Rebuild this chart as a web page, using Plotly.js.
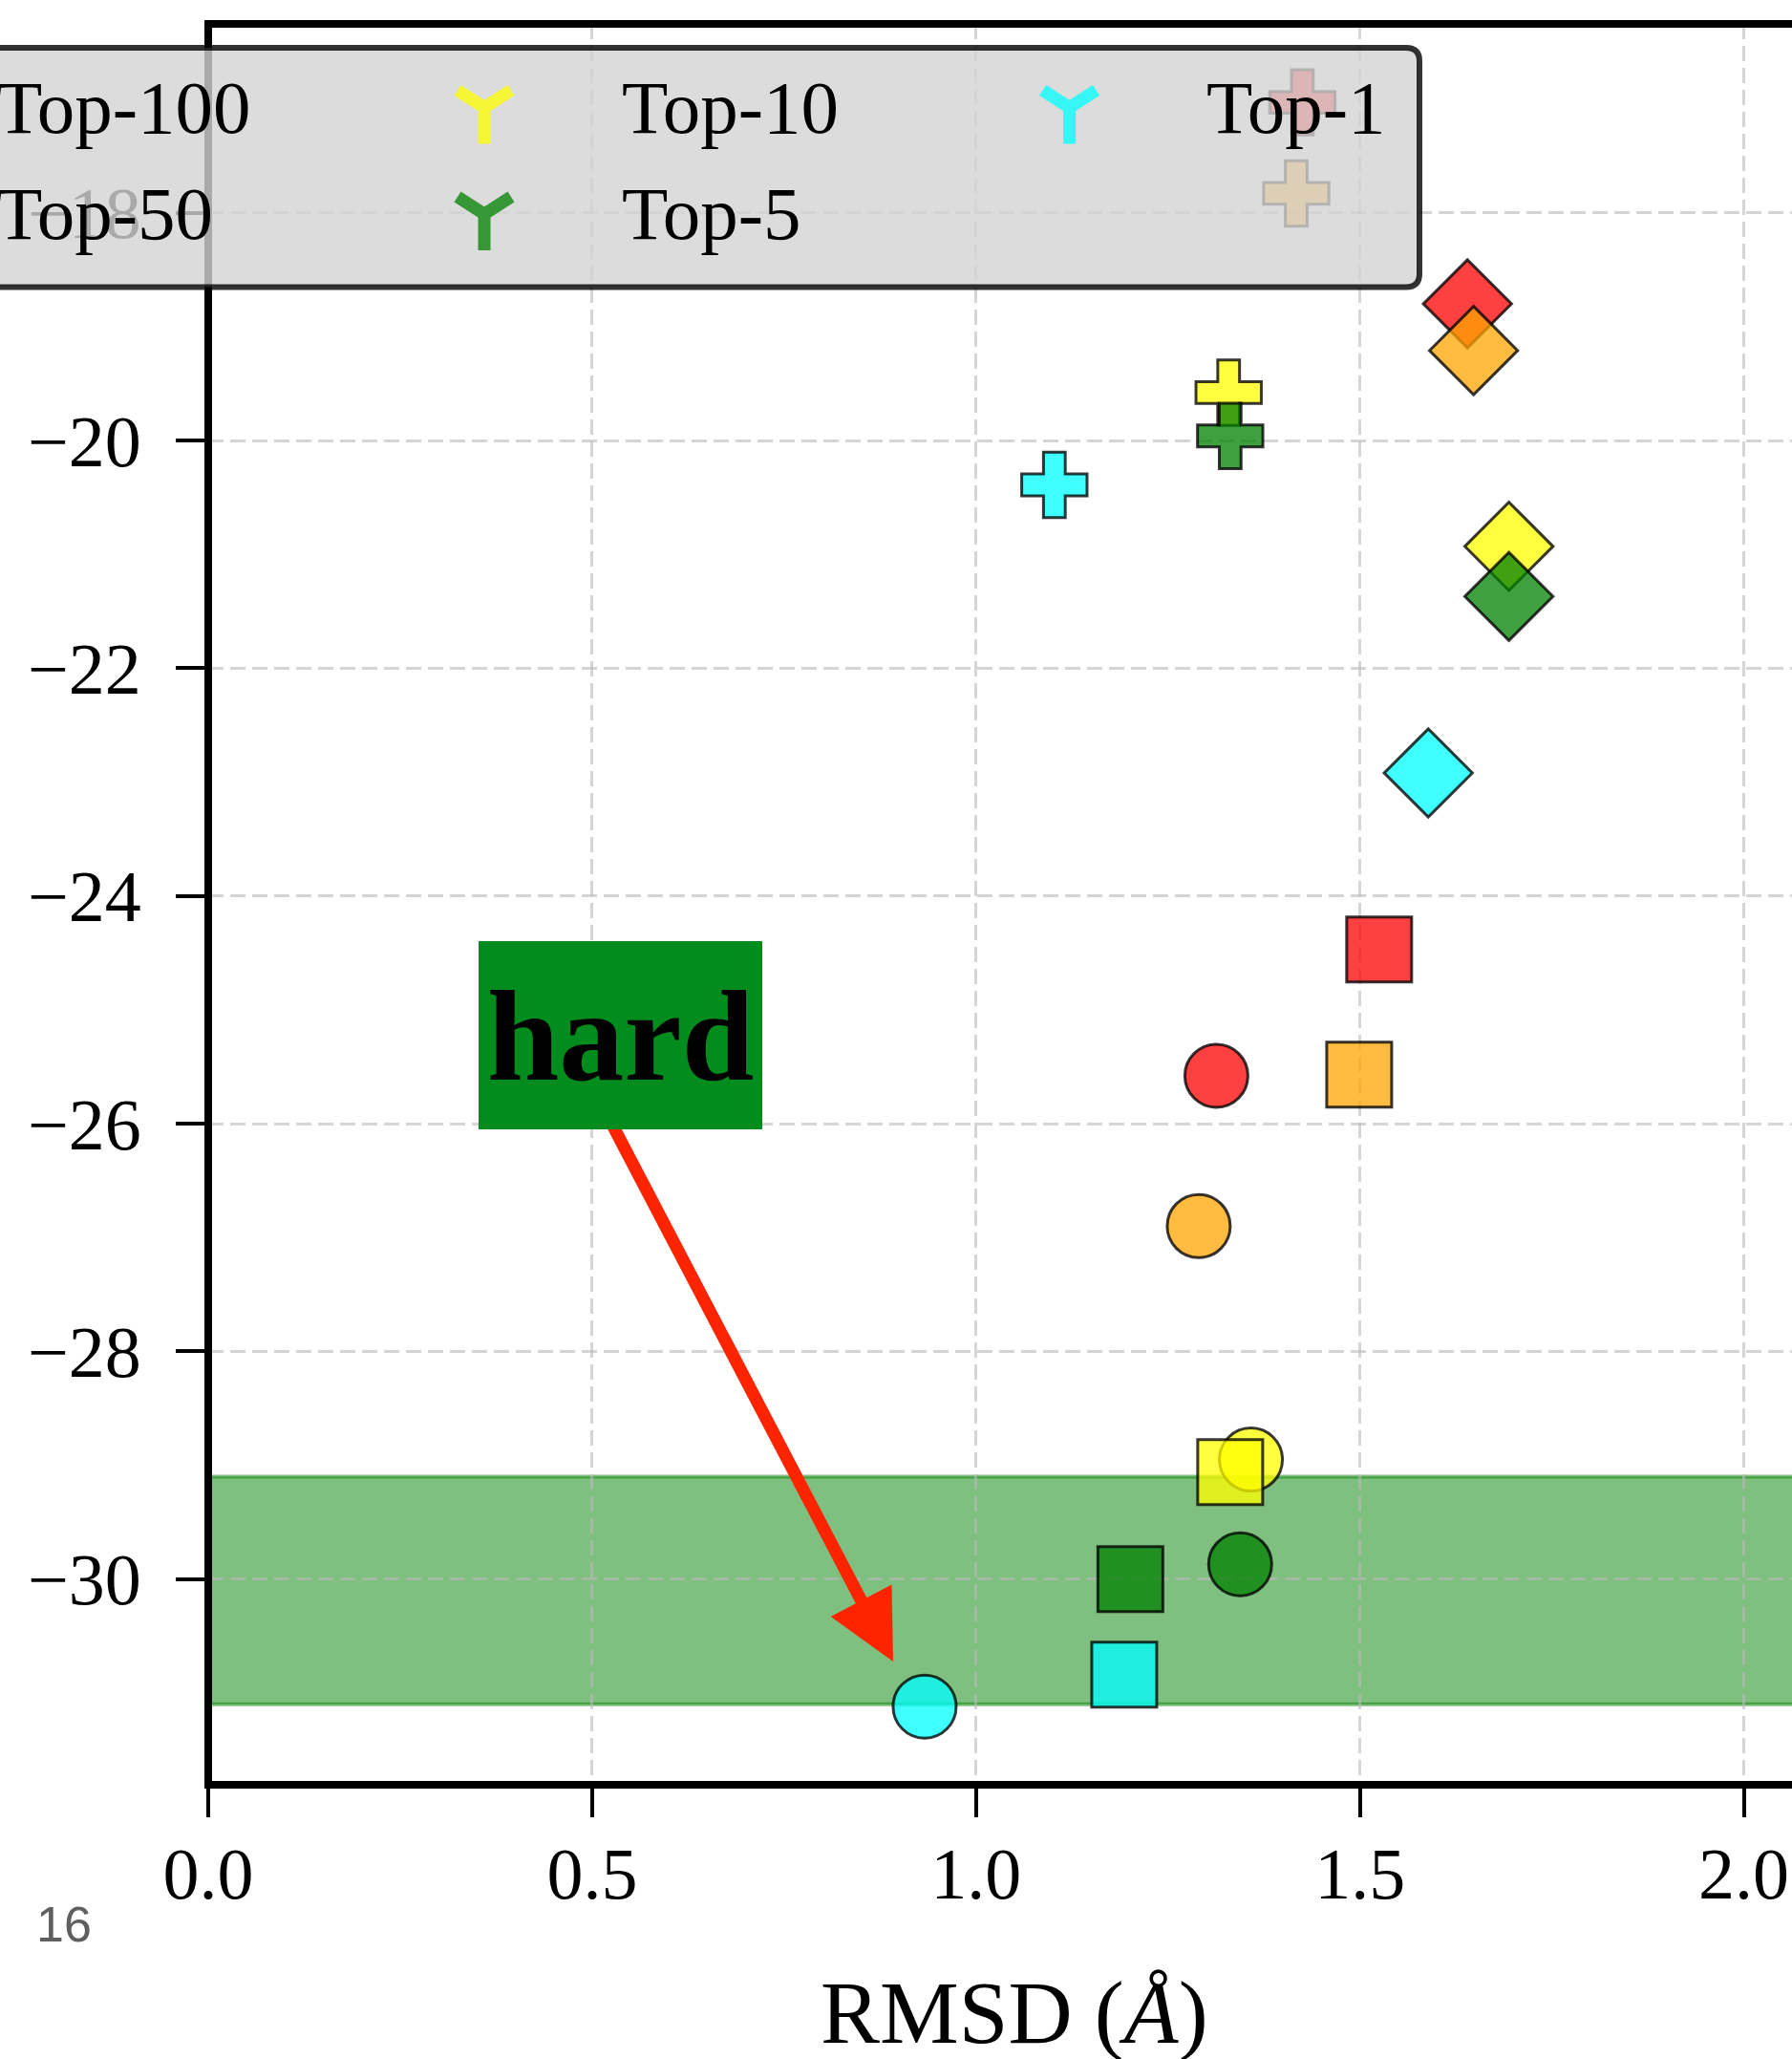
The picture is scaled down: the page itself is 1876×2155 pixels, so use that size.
<!DOCTYPE html>
<html>
<head>
<meta charset="utf-8">
<script src="https://cdn.plot.ly/plotly-3.0.1.min.js"></script>
<style>
html,body{margin:0;padding:0;background:#ffffff;}
#chart{width:1876px;height:2155px;}
</style>
</head>
<body>
<div id="chart"></div>
<script>
// ---------------- data ----------------
const seriesNames = ['Top-100', 'Top-50', 'Top-10', 'Top-5', 'Top-1'];
const markerKinds = ['circle', 'square', 'diamond', 'cross'];
// RMSD (x) and score (y) for each series, in markerKinds order
const rmsdTop100  = [1.313, 1.525, 1.640, 1.425];
const scoreTop100 = [-25.58, -24.47, -18.80, -17.03];
const rmsdTop50   = [1.290, 1.499, 1.648, 1.417];
const scoreTop50  = [-26.90, -25.57, -19.21, -17.83];
const rmsdTop10   = [1.358, 1.331, 1.694, 1.329];
const scoreTop10  = [-28.95, -29.06, -20.93, -19.58];
const rmsdTop5    = [1.344, 1.201, 1.694, 1.331];
const scoreTop5   = [-29.87, -30.00, -21.37, -19.96];
const rmsdTop1    = [0.933, 1.193, 1.589, 1.102];
const scoreTop1   = [-31.12, -30.84, -22.92, -20.39];
const xTickVals = [0, 0.5, 1.0, 1.5, 2.0];
const xTickText = ['0.0', '0.5', '1.0', '1.5', '2.0'];
const yTickVals = [-30, -28, -26, -24, -22, -20, -18];
const bandRange = [-31.1, -29.1];
const hardLabel = 'hard';
const xTitle = 'RMSD (<i>Å</i>)';
const pageNumber = '16';

// ---------------- styling ----------------
const seriesRGB = {
  'Top-100': [255, 0, 0],
  'Top-50':  [255, 165, 0],
  'Top-10':  [255, 255, 0],
  'Top-5':   [0, 128, 0],
  'Top-1':   [0, 255, 255]
};
const kindSize = {circle: 66, square: 68, diamond: 71, cross: 57};
const rgba = (c, a) => `rgba(${c[0]},${c[1]},${c[2]},${a})`;

const seriesX = {'Top-100': rmsdTop100, 'Top-50': rmsdTop50, 'Top-10': rmsdTop10, 'Top-5': rmsdTop5, 'Top-1': rmsdTop1};
const seriesY = {'Top-100': scoreTop100, 'Top-50': scoreTop50, 'Top-10': scoreTop10, 'Top-5': scoreTop5, 'Top-1': scoreTop1};

// ---------------- geometry ----------------
const W = 1876, H = 2155;
const M = {l: 218, r: 0, t: 25, b: 287};
const plotW = W - M.l - M.r, plotH = H - M.t - M.b;
const xRange = [0, 2.0627];
const yRange = [-31.807, -16.341];
const pX = p => (p - M.l) / plotW;               // pixel -> paper
const pY = p => (H - M.b - p) / plotH;
const dX = p => xRange[0] + (p - M.l) / plotW * (xRange[1] - xRange[0]);  // pixel -> data
const dY = p => yRange[0] + (H - M.b - p) / plotH * (yRange[1] - yRange[0]);

const serif = 'Liberation Serif, Times New Roman, serif';

// ---------------- traces ----------------
const traces = seriesNames.map(name => ({
  type: 'scatter',
  mode: 'markers',
  name: name,
  x: seriesX[name],
  y: seriesY[name],
  showlegend: false,
  hoverinfo: 'skip',
  marker: {
    symbol: markerKinds,
    size: markerKinds.map(k => kindSize[k]),
    opacity: 1,
    color: rgba(seriesRGB[name], 0.75),
    line: {color: 'rgba(0,0,0,0.78)', width: 3}
  }
}));

// ---------------- shapes ----------------
const shapes = [];
// green band
shapes.push({
  type: 'rect', xref: 'paper', yref: 'y', x0: 0, x1: 1.05,
  y0: bandRange[0], y1: bandRange[1],
  fillcolor: 'rgba(0,128,0,0.5)', line: {color: 'rgba(0,128,0,0.5)', width: 4},
  layer: 'below'
});

// red arrow: shaft + filled head
const tip = [935, 1739];
const dir = [0.4636, 0.886];
const nrm = [0.886, -0.4636];
const headLen = 72, headHalf = 36;
const base = [tip[0] - headLen * dir[0], tip[1] - headLen * dir[1]];
const tailP = [636.2, 1168];
const arrowColor = 'rgb(255,36,0)';
shapes.push({type: 'line', xref: 'x', yref: 'y',
  x0: dX(tailP[0]), y0: dY(tailP[1]), x1: dX(base[0] + 4 * dir[0]), y1: dY(base[1] + 4 * dir[1]),
  line: {color: arrowColor, width: 13}, layer: 'above'});
shapes.push({type: 'path', xref: 'x', yref: 'y',
  path: `M${dX(tip[0])},${dY(tip[1])} L${dX(base[0] + headHalf * nrm[0])},${dY(base[1] + headHalf * nrm[1])} ` +
        `L${dX(base[0] - headHalf * nrm[0])},${dY(base[1] - headHalf * nrm[1])} Z`,
  fillcolor: arrowColor, line: {width: 0}, layer: 'above'});

// spines
const sw = 8;
shapes.push({type: 'line', xref: 'paper', yref: 'paper', x0: 0, x1: 0,
  y0: -sw / 2 / plotH, y1: 1 + sw / 2 / plotH, line: {color: '#000', width: sw}, layer: 'above'});
shapes.push({type: 'line', xref: 'paper', yref: 'paper', x0: -sw / 2 / plotW, x1: 1.05,
  y0: 1, y1: 1, line: {color: '#000', width: sw}, layer: 'above'});
shapes.push({type: 'line', xref: 'paper', yref: 'paper', x0: -sw / 2 / plotW, x1: 1.05,
  y0: 0, y1: 0, line: {color: '#000', width: sw}, layer: 'above'});

// legend frame (rounded)
const lg = {L: -60, R: 1486, T: 50, B: 300.5, r: 14};
const legPath =
  `M${pX(lg.L)},${pY(lg.T)} H${pX(lg.R - lg.r)} Q${pX(lg.R)},${pY(lg.T)} ${pX(lg.R)},${pY(lg.T + lg.r)} ` +
  `V${pY(lg.B - lg.r)} Q${pX(lg.R)},${pY(lg.B)} ${pX(lg.R - lg.r)},${pY(lg.B)} H${pX(lg.L)} Z`;
shapes.push({type: 'path', xref: 'paper', yref: 'paper', path: legPath,
  fillcolor: 'rgba(211,211,211,0.8)', line: {color: 'rgba(0,0,0,0.8)', width: 6}, layer: 'above'});

// legend keys (tri_down markers) + labels
const legendCols = [
  {keyX: -105, textX: -3, items: ['Top-100', 'Top-50']},
  {keyX: 507, textX: 652, items: ['Top-10', 'Top-5']},
  {keyX: 1119.6, textX: 1264, items: ['Top-1']}
];
const rowCenter = [112.5, 224];
const annotations = [];
const legendBG = [220, 220, 220];
legendCols.forEach(col => {
  col.items.forEach((name, i) => {
    const cy = rowCenter[i], cx = col.keyX;
    const c = seriesRGB[name];
    const shown = c.map((v, k) => Math.round(0.75 * v + 0.25 * legendBG[k]));
    const path = `M${pX(cx)},${pY(cy)} L${pX(cx - 28)},${pY(cy - 18)} ` +
                 `M${pX(cx)},${pY(cy)} L${pX(cx + 28)},${pY(cy - 18)} ` +
                 `M${pX(cx)},${pY(cy)} L${pX(cx)},${pY(cy + 38)}`;
    shapes.push({type: 'path', xref: 'paper', yref: 'paper', path: path,
      line: {color: rgba(shown, 1), width: 13}, layer: 'above'});
    annotations.push({
      xref: 'paper', yref: 'paper', x: pX(col.textX - 3), y: pY(cy),
      xanchor: 'left', yanchor: 'middle', showarrow: false, text: name,
      font: {family: serif, size: 79, color: '#000'}
    });
  });
});

// ---------------- annotations ----------------
// "hard" box
annotations.push({
  xref: 'x', yref: 'y', x: dX(649.4), y: dY(1080.3),
  xanchor: 'center', yanchor: 'middle', showarrow: false,
  text: hardLabel, width: 297, height: 197, borderpad: 0, borderwidth: 0,
  bgcolor: '#018c1d', align: 'center', valign: 'middle', yshift: -3,
  font: {family: serif, size: 136, color: '#000', weight: 'bold'}
});
// x axis title
annotations.push({
  xref: 'x', yref: 'paper', x: dX(1061.5), y: pY(2106),
  xanchor: 'center', yanchor: 'middle', showarrow: false,
  text: xTitle, font: {family: serif, size: 93, color: '#000'}
});
// page number
annotations.push({
  xref: 'paper', yref: 'paper', x: pX(67), y: pY(2014),
  xanchor: 'center', yanchor: 'middle', showarrow: false,
  text: pageNumber, font: {family: 'Liberation Sans, Arial, sans-serif', size: 52, color: '#5f5f5f'}
});

// ---------------- layout ----------------
const gridStyle = {showgrid: true, gridcolor: 'rgba(185,185,185,0.6)', gridwidth: 3, griddash: '16px,7px'};
const layout = {
  width: W, height: H,
  margin: M,
  paper_bgcolor: '#ffffff', plot_bgcolor: '#ffffff',
  showlegend: false,
  xaxis: Object.assign({
    range: xRange, tickvals: xTickVals, ticktext: xTickText,
    ticks: 'outside', ticklen: 33, tickwidth: 4, tickcolor: '#000',
    showline: false, zeroline: false, automargin: false, fixedrange: true,
    tickfont: {family: serif, size: 76, color: '#000'}, ticklabelstandoff: -6
  }, gridStyle),
  yaxis: Object.assign({
    range: yRange, tickvals: yTickVals,
    ticks: 'outside', ticklen: 33, tickwidth: 4, tickcolor: '#000',
    showline: false, zeroline: false, automargin: false, fixedrange: true,
    tickfont: {family: serif, size: 76, color: '#000'}, ticklabelstandoff: 21
  }, gridStyle),
  shapes: shapes,
  annotations: annotations
};

Plotly.newPlot('chart', traces, layout, {displayModeBar: false, staticPlot: true});
</script>
</body>
</html>
